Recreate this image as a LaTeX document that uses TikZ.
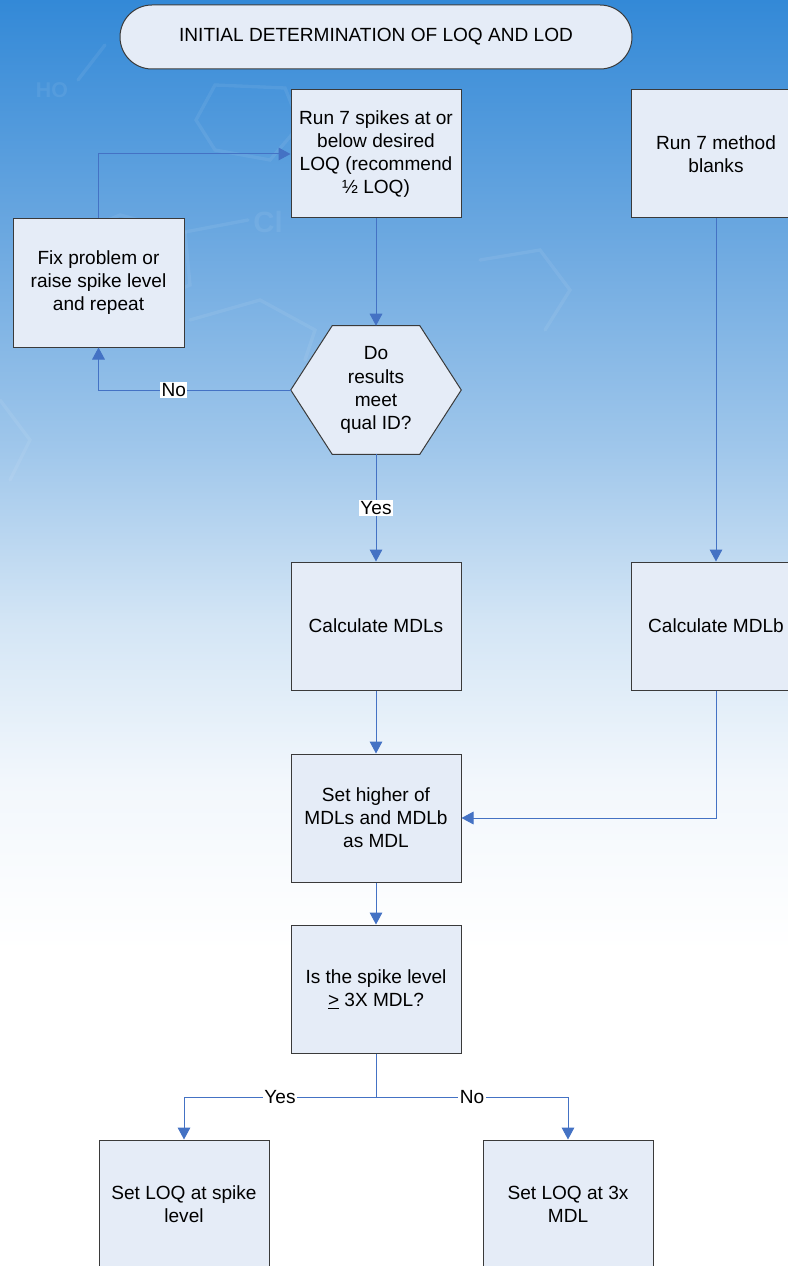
\documentclass[tikz,border=0pt]{standalone}
\usepackage{fontspec}
\setmainfont{Liberation Sans}
\usetikzlibrary{arrows.meta,calc,backgrounds}

\definecolor{linkblue}{HTML}{4472C4}
\definecolor{boxfill}{HTML}{E5ECF7}
\definecolor{boxline}{HTML}{3A3A3A}
\definecolor{skyA}{HTML}{3389D7}
\definecolor{skyB}{HTML}{6FAAE1}
\definecolor{skyC}{HTML}{A0C7EB}
\definecolor{skyD}{HTML}{D3E5F5}
\definecolor{skyE}{HTML}{F2F7FC}

\newcommand\flowfont{\fontsize{14.3}{17.3}\selectfont}

\tikzset{
  stepbox/.style={draw=boxline, fill=boxfill, line width=0.75pt,
    minimum width=127.5pt, minimum height=96pt, inner sep=0pt,
    align=center, font=\flowfont},
  link/.style={draw=linkblue, line width=0.75pt,
    -{Triangle[width=9.5pt,length=9pt]}},
  plainlink/.style={draw=linkblue, line width=0.75pt},
  tag/.style={fill=white, inner sep=1pt, font=\flowfont},
  faint/.style={draw=white, draw opacity=0.07, line width=2.5pt, line cap=round}
}

\begin{document}
\begin{tikzpicture}[x=0.75pt, y=-0.75pt]
\useasboundingbox (0,0) rectangle (788,1266);
\begin{scope}
\clip (0,0) rectangle (788,1266);

% sky background fading to white
\begin{scope}[on background layer]
  \shade[top color=skyA, bottom color=skyB] (0,0) rectangle (788,251);
  \shade[top color=skyB, bottom color=skyC] (0,250) rectangle (788,451);
  \shade[top color=skyC, bottom color=skyD] (0,450) rectangle (788,621);
  \shade[top color=skyD, bottom color=skyE] (0,620) rectangle (788,781);
  \shade[top color=skyE, bottom color=white] (0,780) rectangle (788,951);
  \fill[white] (0,950) rectangle (788,1266);
  % faint molecule sketch in the sky
  \node[text=white, text opacity=0.07, font=\fontsize{16}{16}\selectfont\bfseries] at (52,90) {HO};
  \node[text=white, text opacity=0.07, font=\fontsize{22}{22}\selectfont\bfseries] at (268,222) {Cl};
  \draw[faint] (78,80) -- (105,45);
  \draw[faint] (215,85) -- (285,88) -- (300,125) -- (270,160) -- (215,150) -- (196,120) -- cycle;
  \draw[faint] (185,232) -- (248,220);
  \draw[faint] (60,240) -- (120,215) -- (185,232) -- (190,285) -- (130,310) -- (70,290) -- cycle;
  \draw[faint] (190,320) -- (260,300) -- (315,330) -- (305,360);
  \draw[faint] (0,400) -- (30,440) -- (10,480);
  \draw[faint] (480,260) -- (540,250) -- (570,290) -- (545,330);
\end{scope}

% title
\node (title) [draw=boxline, fill=boxfill, line width=0.75pt, rounded corners=24pt,
  minimum width=384pt, minimum height=48pt, font=\flowfont] at (376,37)
  {INITIAL DETERMINATION OF LOQ AND LOD};

% process boxes
\node (spikes) [stepbox] at (376,154) {Run 7 spikes at or\\below desired\\LOQ (recommend\\½ LOQ)};
\node (blanks) [stepbox] at (716,154) {Run 7 method\\blanks};
\node (fix) [stepbox, minimum width=128.25pt] at (98.5,283) {Fix problem or\\raise spike level\\and repeat};

% decision hexagon
\node (qual) [minimum width=127.5pt, minimum height=96pt, inner sep=0pt,
  align=center, font=\flowfont] at (376,390) {Do\\results\\meet\\qual ID?};
\begin{scope}[on background layer]
  \draw[boxline, fill=boxfill, line width=0.75pt, line join=miter]
    (qual.west)
    -- ($(qual.north west)!0.243!(qual.north east)$)
    -- ($(qual.north west)!0.757!(qual.north east)$)
    -- (qual.east)
    -- ($(qual.south west)!0.757!(qual.south east)$)
    -- ($(qual.south west)!0.243!(qual.south east)$)
    -- cycle;
\end{scope}

\node (mdls) [stepbox] at (376,626) {Calculate MDLs};
\node (mdlb) [stepbox] at (716,626) {Calculate MDLb};
\node (higher) [stepbox] at (376,818) {Set higher of\\MDLs and MDLb\\as MDL};
\node (check) [stepbox] at (376,989) {Is the spike level\\\underline{>} 3X MDL?};
\node (atspike) [stepbox] at (184,1204) {Set LOQ at spike\\level};
\node (atthree) [stepbox] at (568,1204) {Set LOQ at 3x\\MDL};

% connectors
\draw[link] (spikes) -- (qual);
\draw[link] (qual.west) -| node[tag, pos=0.304] {No} (fix.south);
\draw[link] (fix.north) |- (spikes.west);
\draw[link] (qual.south) -- node[tag] {Yes} (mdls.north);
\draw[link] (blanks) -- (mdlb);
\draw[link] (mdls) -- (higher);
\draw[link] (mdlb.south) |- (higher.east);
\draw[link] (higher) -- (check);
\coordinate (split) at (376,1097);
\draw[plainlink] (check.south) -- (split);
\draw[link] (split) -| node[tag, pos=0.25] {Yes} (atspike.north);
\draw[link] (split) -| node[tag, pos=0.25] {No} (atthree.north);

\end{scope}
\end{tikzpicture}
\end{document}
